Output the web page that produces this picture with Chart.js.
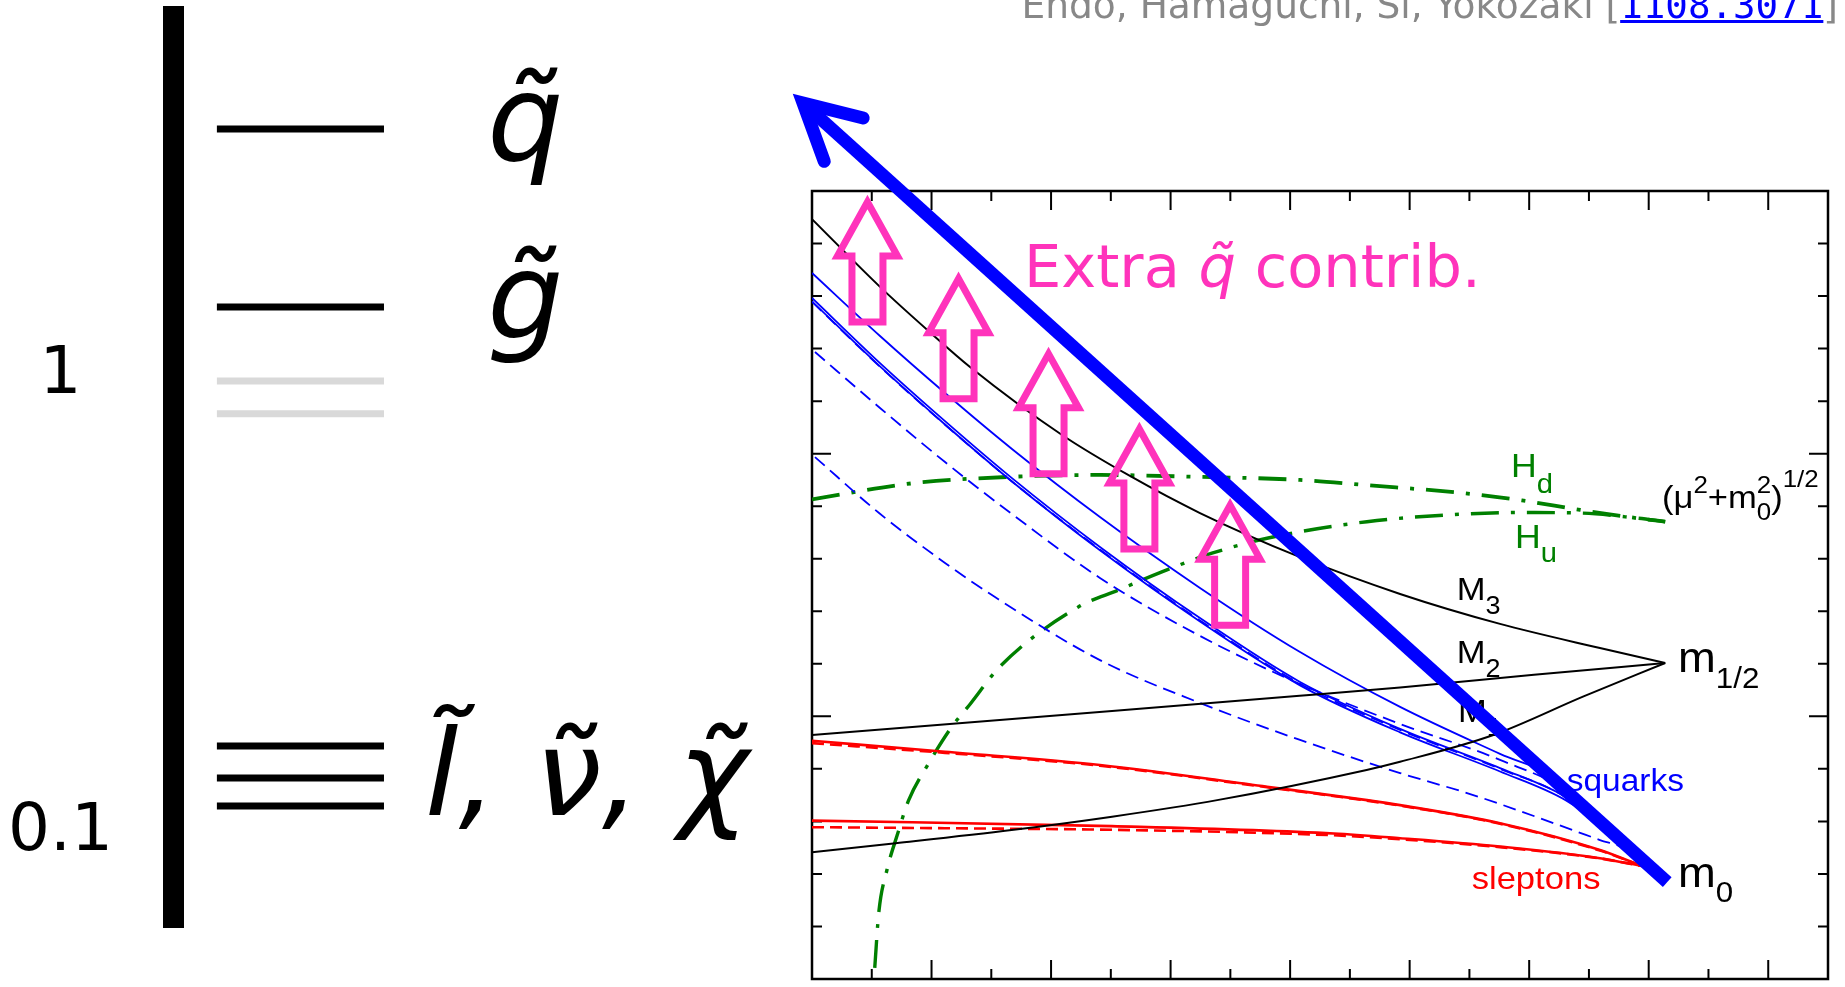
<!DOCTYPE html>
<html>
<head>
<meta charset="utf-8">
<title>Sparticle running</title>
<script src="https://cdn.jsdelivr.net/npm/chart.js@4.4.1/dist/chart.umd.min.js"></script>
<style>
  html, body { margin: 0; padding: 0; background: #fff; }
  body { width: 1845px; height: 987px; position: relative; overflow: hidden; }
  canvas { position: absolute; left: 0; top: 0; }
  #credit {
    position: absolute; right: 7px; top: -13px;
    font: 37.5px/37px "DejaVu Sans", sans-serif; color: #888; white-space: nowrap;
  }
  #credit a { font-family: "DejaVu Sans Mono", monospace; color: #00f; text-decoration: underline; }
</style>
</head>
<body>
<canvas id="spectrumChart" width="1845" height="987"></canvas>
<canvas id="runningChart" width="1845" height="987"></canvas>
<div id="credit">Endo, Hamaguchi, Si, Yokozaki [<a href="https://arxiv.org/abs/1108.3071">1108.3071</a>]</div>
<script>
// ---------- left panel: low-scale spectrum (log mass axis) ----------
const spectrumTicks = [0.1, 1];
const squarkLevel = [3.47];
const gluinoLevel = [1.416];
const fadedLevels = [0.975, 0.827];
const lightLevels = [0.155, 0.132, 0.1146];
const levelSpan = [0.07, 0.3365];
const levelNames = ['q\u0303', 'g\u0303', 'l\u0303, \u03bd\u0303, \u03c7\u0303'];
const levelNameMass = [3.47, 1.416, 0.128];
const levelNameX = [0.501, 0.501, 0.402];

// ---------- right panel: RG running, [x, mass] pairs ----------
const gauginoM3 = [[0, 2.893], [0.569, 2.635], [1.012, 2.452], [1.322, 2.330], [2.092, 2.071], [2.660, 1.915],
  [3.246, 1.774], [4.083, 1.606], [4.920, 1.466], [5.756, 1.352], [6.592, 1.260], [7.138, 1.203]];
const gauginoM2 = [[0, 0.929], [2.51, 1.020], [4.08, 1.078], [4.92, 1.110], [6.04, 1.158], [7.138, 1.203]];
const gauginoM1 = [[0, 0.483], [0.70, 0.517], [1.67, 0.567], [2.51, 0.618], [3.39, 0.681], [4.64, 0.796],
  [4.92, 0.827], [5.70, 0.929], [6.45, 1.075], [7.138, 1.203]];

const squarkSolidA = [[0, 2.688], [0.569, 2.448], [1.113, 2.231], [1.673, 2.018], [2.409, 1.759], [3.246, 1.489],
  [4.083, 1.245], [4.920, 1.036], [5.756, 0.857], [6.258, 0.754], [6.944, 0.430]];
const squarkSolidB = [[0, 2.593], [0.569, 2.345], [1.113, 2.124], [1.673, 1.907], [2.409, 1.645], [3.246, 1.374],
  [4.083, 1.131], [4.920, 0.952], [5.756, 0.803], [6.308, 0.693], [6.592, 0.598], [6.944, 0.430]];
const squarkSolidC = [[0, 2.580], [0.569, 2.332], [1.113, 2.111], [1.673, 1.894], [2.409, 1.632], [3.246, 1.361],
  [4.083, 1.118], [4.920, 0.939], [5.756, 0.790], [6.308, 0.680], [6.592, 0.585], [6.944, 0.430]];
const squarkDashA = [[0, 2.578], [0.569, 2.331], [1.113, 2.110], [1.673, 1.894], [2.409, 1.635], [3.246, 1.365],
  [4.083, 1.124], [4.920, 0.948], [5.756, 0.800], [6.308, 0.690], [6.944, 0.430]];
const squarkDashB = [[0.025, 2.387], [0.569, 2.174], [1.113, 1.968], [1.673, 1.770], [2.409, 1.527], [3.246, 1.306],
  [4.083, 1.123], [4.920, 0.971], [5.756, 0.834], [6.367, 0.700], [6.944, 0.430]];
const squarkDashC = [[0.025, 1.987], [0.561, 1.774], [1.113, 1.584], [1.531, 1.454], [2.409, 1.214], [3.246, 1.051],
  [4.083, 0.910], [4.920, 0.784], [5.480, 0.708], [5.756, 0.666], [6.592, 0.529], [6.818, 0.491], [6.944, 0.430]];

const sleptonSolidA = [[0, 0.907], [1.113, 0.865], [2.409, 0.815], [3.807, 0.732], [4.643, 0.681], [4.920, 0.662],
  [5.756, 0.593], [6.592, 0.491], [6.944, 0.430]];
const sleptonDashA = [[0, 0.898], [1.113, 0.861], [2.409, 0.812], [3.807, 0.730], [4.920, 0.660], [5.756, 0.591],
  [6.592, 0.489], [6.944, 0.430]];
const sleptonSolidB = [[0, 0.603], [2.510, 0.582], [4.367, 0.554], [4.920, 0.536], [5.756, 0.504], [6.592, 0.460], [6.944, 0.430]];
const sleptonDashB = [[0, 0.578], [1.113, 0.574], [2.510, 0.568], [4.367, 0.547], [4.920, 0.532], [5.756, 0.502],
  [6.592, 0.459], [6.944, 0.430]];

const higgsHd = [[0, 1.826], [0.837, 1.887], [1.673, 1.912], [2.409, 1.919], [3.204, 1.912], [4.083, 1.900],
  [4.643, 1.880], [5.446, 1.850], [5.940, 1.822], [6.425, 1.786], [6.894, 1.755], [7.138, 1.741]];
const higgsHu = [[0.525, 0.042], [0.558, 0.250], [0.627, 0.415], [0.711, 0.545], [0.809, 0.681], [0.976, 0.821],
  [1.171, 0.961], [1.324, 1.047], [1.573, 1.190], [2.231, 1.417], [2.566, 1.481], [2.901, 1.545], [3.346, 1.621],
  [3.807, 1.678], [4.643, 1.741], [5.446, 1.770], [5.940, 1.776], [6.425, 1.774], [6.894, 1.755], [7.138, 1.741]];

// big arrow: from the m0 end up to the top-left
const trendArrow = [[7.155, 0.369], [-0.075, 3.335]];
// tips of the hollow "extra contribution" arrows
const pinkArrowX = [0.464, 1.226, 1.979, 2.739, 3.498];
const pinkArrowY = [2.958, 2.666, 2.380, 2.094, 1.804];

const xMajorTicks = [1, 2, 3, 4, 5, 6, 7, 8];
const xMinorTicks = [0.5, 1.5, 2.5, 3.5, 4.5, 5.5, 6.5, 7.5];
const yMajorTicks = [1, 2];
const yMinorTicks = [0.2, 0.4, 0.6, 0.8, 1.2, 1.4, 1.6, 1.8, 2.2, 2.4, 2.6, 2.8];

const BLUE = '#0000ff', RED = '#ff0000', GREEN = '#008000', PINK = '#ff33bb';
const LABEL_STRETCH = 1.08;

const toPoints = arr => arr.map(([x, y]) => ({ x, y }));

// ---------- left chart ----------
function levelSet(masses, color) {
  return masses.map(m => ({
    data: [{ x: levelSpan[0], y: m }, { x: levelSpan[1], y: m }],
    borderColor: color, borderWidth: 7, borderCapStyle: 'butt', pointRadius: 0
  }));
}

const levelLabelPlugin = {
  id: 'levelLabels',
  afterDatasetsDraw(chart) {
    const { ctx, scales: { x, y } } = chart;
    ctx.save();
    ctx.font = 'oblique 120px "DejaVu Sans"';
    ctx.fillStyle = '#000';
    ctx.textBaseline = 'middle';
    levelNames.forEach((name, i) => {
      ctx.fillText(name, x.getPixelForValue(levelNameX[i]), y.getPixelForValue(levelNameMass[i]));
    });
    ctx.restore();
  }
};

new Chart(document.getElementById('spectrumChart'), {
  type: 'line',
  data: {
    datasets: [
      ...levelSet(squarkLevel, '#000'),
      ...levelSet(gluinoLevel, '#000'),
      ...levelSet(fadedLevels, '#d9d9d9'),
      ...levelSet(lightLevels, '#000')
    ]
  },
  options: {
    responsive: false,
    animation: false,
    // the thick axis border overhangs the top of the scale by half its width
    layout: { padding: { top: 16.5, bottom: 60, left: 0, right: 1045 } },
    plugins: { legend: { display: false }, tooltip: { enabled: false } },
    scales: {
      x: { type: 'linear', min: 0, max: 1, display: false },
      y: {
        type: 'logarithmic', position: 'left', min: 0.06227, max: 6.119,
        afterFit: s => { s.width = 173; s.paddingTop = 0; s.paddingBottom = 0; },
        afterBuildTicks: s => { s.ticks = spectrumTicks.map(v => ({ value: v })); },
        grid: { display: false, drawTicks: false },
        border: { display: true, color: '#000', width: 21 },
        ticks: {
          color: '#000', padding: 60, crossAlign: 'center',
          font: { family: 'DejaVu Sans', size: 66 },
          callback: v => String(v)
        }
      }
    }
  },
  plugins: [levelLabelPlugin]
});

// ---------- right chart ----------
function curve(arr, color, width, dash) {
  return {
    data: toPoints(arr), borderColor: color, borderWidth: width, borderDash: dash || [],
    cubicInterpolationMode: 'monotone', pointRadius: 0, fill: false, order: 2
  };
}

const plotLabels = [
  { x: 5.848, y: 1.911, color: GREEN, parts: [{ t: 'H', s: 33 }, { t: 'd', s: 27, dy: 16 }] },
  { x: 5.881, y: 1.641, color: GREEN, parts: [{ t: 'H', s: 33 }, { t: 'u', s: 27, dy: 14 }] },
  { x: 7.111, y: 1.793, color: '#000', parts: [{ t: '(\u03bc', s: 32 }, { t: '2', s: 24, dy: -15 },
      { t: '+m', s: 32 }, { t: '0', s: 24, dy: 12, stack: true }, { t: '2', s: 24, dy: -15 },
      { t: ')', s: 32 }, { t: '1/2', s: 24, dy: -21 }] },
  { x: 5.394, y: 1.443, color: '#000', parts: [{ t: 'M', s: 32 }, { t: '3', s: 25, dy: 14 }] },
  { x: 5.394, y: 1.202, color: '#000', parts: [{ t: 'M', s: 32 }, { t: '2', s: 25, dy: 14 }] },
  { x: 5.404, y: 0.980, color: '#000', parts: [{ t: 'M', s: 32 }, { t: '1', s: 25, dy: 14 }] },
  { x: 7.245, y: 1.170, color: '#000', parts: [{ t: 'm', s: 42 }, { t: '1/2', s: 29, dy: 16 }] },
  { x: 7.245, y: 0.351, color: '#000', parts: [{ t: 'm', s: 42 }, { t: '0', s: 29, dy: 15 }] },
  { x: 6.314, y: 0.717, color: BLUE, parts: [{ t: 'squarks', s: 31 }] },
  { x: 5.519, y: 0.343, color: RED, parts: [{ t: 'sleptons', s: 32 }] }
];

function drawRichLabel(ctx, px, py, label) {
  ctx.save();
  ctx.translate(px, py);
  ctx.scale(LABEL_STRETCH, 1);
  ctx.fillStyle = label.color;
  ctx.textBaseline = 'alphabetic';
  let cx = 0;
  label.parts.forEach(p => {
    ctx.font = p.s + 'px "Liberation Sans", Arial, sans-serif';
    ctx.fillText(p.t, cx, p.dy || 0);
    if (!p.stack) cx += ctx.measureText(p.t).width;
  });
  ctx.restore();
}

const framePlugin = {
  id: 'frameAndLabels',
  beforeDatasetsDraw(chart) {
    const { ctx, chartArea: a, scales: { x, y } } = chart;
    ctx.save();
    ctx.strokeStyle = '#000';
    ctx.lineWidth = 2.5;
    ctx.strokeRect(a.left, a.top, a.right - a.left, a.bottom - a.top);
    ctx.lineWidth = 2;
    const xtick = (vals, len) => {
      vals.forEach(v => {
        const px = x.getPixelForValue(v);
        ctx.beginPath();
        ctx.moveTo(px, a.bottom); ctx.lineTo(px, a.bottom - len);
        ctx.moveTo(px, a.top); ctx.lineTo(px, a.top + len);
        ctx.stroke();
      });
    };
    const ytick = (vals, len) => {
      vals.forEach(v => {
        const py = y.getPixelForValue(v);
        ctx.beginPath();
        ctx.moveTo(a.left, py); ctx.lineTo(a.left + len, py);
        ctx.moveTo(a.right, py); ctx.lineTo(a.right - len, py);
        ctx.stroke();
      });
    };
    xtick(xMajorTicks, 19); xtick(xMinorTicks, 10);
    ytick(yMajorTicks, 19); ytick(yMinorTicks, 10);

    plotLabels.forEach(l => drawRichLabel(ctx, x.getPixelForValue(l.x), y.getPixelForValue(l.y), l));

    // "Extra q~ contrib." with the squark symbol in oblique
    let tx = x.getPixelForValue(1.774);
    const ty = y.getPixelForValue(2.634);
    ctx.fillStyle = PINK;
    ctx.textBaseline = 'alphabetic';
    [['Extra ', ''], ['q\u0303', 'oblique '], [' contrib.', '']].forEach(([t, st]) => {
      ctx.font = st + '59px "DejaVu Sans"';
      ctx.fillText(t, tx, ty);
      tx += ctx.measureText(t).width;
    });
    ctx.restore();
  },
  afterDatasetsDraw(chart) {
    const { ctx, scales: { x, y } } = chart;
    ctx.save();
    // head of the big blue arrow
    const ex = x.getPixelForValue(trendArrow[0][0]), ey = y.getPixelForValue(trendArrow[0][1]);
    const hx = x.getPixelForValue(trendArrow[1][0]), hy = y.getPixelForValue(trendArrow[1][1]);
    const back = Math.atan2(ey - hy, ex - hx);
    const wing = 62, spread = 28 * Math.PI / 180;
    ctx.strokeStyle = BLUE;
    ctx.lineWidth = 13;
    ctx.lineCap = 'round';
    ctx.lineJoin = 'miter';
    ctx.beginPath();
    ctx.moveTo(hx + wing * Math.cos(back - spread), hy + wing * Math.sin(back - spread));
    ctx.lineTo(hx, hy);
    ctx.lineTo(hx + wing * Math.cos(back + spread), hy + wing * Math.sin(back + spread));
    ctx.stroke();

    // hollow pink arrows
    ctx.strokeStyle = PINK;
    ctx.lineWidth = 7;
    ctx.lineCap = 'butt';
    const headHalf = 30, shaftHalf = 15.5, headLen = 54, totalLen = 120;
    pinkArrowX.forEach((v, i) => {
      const px = x.getPixelForValue(v), py = y.getPixelForValue(pinkArrowY[i]);
      ctx.beginPath();
      ctx.moveTo(px, py);
      ctx.lineTo(px + headHalf, py + headLen);
      ctx.lineTo(px + shaftHalf, py + headLen);
      ctx.lineTo(px + shaftHalf, py + totalLen);
      ctx.lineTo(px - shaftHalf, py + totalLen);
      ctx.lineTo(px - shaftHalf, py + headLen);
      ctx.lineTo(px - headHalf, py + headLen);
      ctx.closePath();
      ctx.stroke();
    });
    ctx.restore();
  }
};

const dashDot = [28, 12, 4, 12];

new Chart(document.getElementById('runningChart'), {
  type: 'line',
  data: {
    datasets: [
      { data: toPoints(trendArrow), borderColor: BLUE, borderWidth: 13, borderCapStyle: 'butt',
        pointRadius: 0, clip: false, order: 0 },
      curve(gauginoM3, '#000', 2),
      curve(gauginoM2, '#000', 2),
      curve(gauginoM1, '#000', 2),
      curve(squarkSolidA, BLUE, 1.8),
      curve(squarkSolidB, BLUE, 1.8),
      curve(squarkSolidC, BLUE, 1.8),
      curve(squarkDashA, BLUE, 1.8, [13, 7]),
      curve(squarkDashB, BLUE, 1.8, [13, 7]),
      curve(squarkDashC, BLUE, 1.8, [13, 7]),
      curve(sleptonSolidA, RED, 2.6),
      curve(sleptonDashA, RED, 2.6, [12, 6]),
      curve(sleptonSolidB, RED, 2.6),
      curve(sleptonDashB, RED, 2.6, [12, 6]),
      curve(higgsHd, GREEN, 3.8, dashDot),
      curve(higgsHu, GREEN, 3.4, dashDot)
    ]
  },
  options: {
    responsive: false,
    animation: false,
    layout: { padding: { left: 812, top: 191, right: 17, bottom: 8 } },
    plugins: { legend: { display: false }, tooltip: { enabled: false } },
    scales: {
      x: { type: 'linear', min: 0, max: 8.5, display: false },
      y: { type: 'linear', min: 0, max: 3, display: false }
    }
  },
  plugins: [framePlugin]
});
</script>
</body>
</html>
